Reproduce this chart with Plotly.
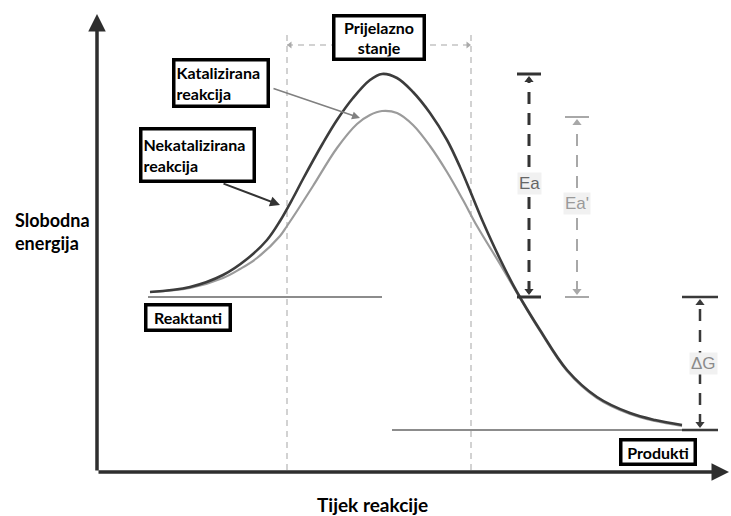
import plotly.graph_objects as go

# Reaction progress (x) and free energy (E), origin at the axes corner
x_uncat = [53, 93, 126, 150, 170, 183, 196, 206, 226, 240, 256, 273, 285, 300, 316, 333,
           350, 363, 376, 386, 403, 420, 443, 470, 500, 533, 558, 585]
e_uncat = [180, 185, 197, 213, 232, 251, 274, 293, 329, 352, 374, 392, 398, 394, 380, 359,
           332, 305, 274, 250, 213, 180, 142, 102, 75, 59, 52, 47]
x_cat = [53, 93, 126, 143, 160, 183, 190, 200, 216, 240, 260, 273, 285, 300, 316, 333,
         350, 366, 380, 403, 420, 443, 470, 500, 533, 558, 585]
e_cat = [180, 184, 194, 203, 214, 236, 246, 261, 286, 324, 348, 357, 361, 359, 347, 326,
         300, 272, 246, 208, 179, 141, 101, 74, 58, 51, 46]

E_reactants = 175
E_products = 42
E_ts_uncat = 398
E_ts_cat = 355
reactant_x = [51, 285]
product_x = [295, 590]
ts_x = [190, 374]
x_Ea, x_Ea2, x_dG = 432, 480, 603

labels = {
    "ts": "Prijelazno<br>stanje",
    "cat": "Katalizirana<br>reakcija",
    "uncat": "Nekatalizirana<br>reakcija",
    "react": "Reaktanti",
    "prod": "Produkti",
    "ylab": "Slobodna<br>energija",
    "xlab": "Tijek reakcije",
}

FONT = "Lato"
fig = go.Figure()

def line(xs, ys, color, width, dash="solid", shape="linear"):
    fig.add_trace(go.Scatter(x=xs, y=ys, mode="lines", hoverinfo="skip",
                             line=dict(color=color, width=width, dash=dash, shape=shape)))

# transition state dashed verticals and double arrow
for xv in ts_x:
    line([xv, xv], [2, 440], "#c4c4c4", 1.5, "6px,5px")
line(ts_x, [427, 427], "#c4c4c4", 1.5, "6px,5px")
fig.add_trace(go.Scatter(x=[ts_x[0] + 3, ts_x[1] - 3], y=[427, 427], mode="markers", hoverinfo="skip",
                         marker=dict(symbol=["triangle-left", "triangle-right"], size=6, color="#aaaaaa")))

# levels
line(reactant_x, [E_reactants] * 2, "#8c8c8c", 1.8)
line(product_x, [E_products] * 2, "#8c8c8c", 1.8)

# curves
line(x_cat, e_cat, "#9b9b9b", 2.2, shape="spline")
line(x_uncat, e_uncat, "#3c3c3c", 2.6, shape="spline")

# Ea, Ea', dG markers
def bracket(xc, top, bot, color, width, half):
    line([xc, xc], [bot + 4, top - 4], color, width, "12px,9px")
    line([xc - half, xc + half], [top, top], color, width)
    line([xc - half, xc + half], [bot, bot], color, width)
    fig.add_trace(go.Scatter(x=[xc, xc], y=[top - 6, bot + 6], mode="markers", hoverinfo="skip",
                             marker=dict(symbol=["triangle-up", "triangle-down"], size=8, color=color)))

bracket(x_Ea, E_ts_uncat, E_reactants, "#333333", 3, 12)
bracket(x_Ea2, E_ts_cat, E_reactants, "#a8a8a8", 2, 12)
bracket(x_dG, E_reactants, E_products, "#3a3a3a", 2.5, 18)

ann = []
def label_bg(x, y, t, color):
    ann.append(dict(x=x, y=y, text=t, showarrow=False, bgcolor="#f1f1f1",
                    font=dict(family="Liberation Sans", size=17, color=color)))
label_bg(x_Ea, 289, "Ea", "#666666")
label_bg(x_Ea2, 269, "Ea'", "#9a9a9a")
label_bg(x_dG + 3, 109, "ΔG", "#8a8a8a")

def box(x, y, t, w, h, align="left"):
    ann.append(dict(x=x, y=y, text=t, showarrow=False, bgcolor="white", bordercolor="black",
                    borderwidth=3.5, borderpad=1, width=w - 9, height=h - 9, align=align, valign="middle",
                    font=dict(family=FONT, size=16, color="black", weight="bold")))
box(282, 434.5, labels["ts"], 94, 47, "center")
box(124, 389, labels["cat"], 98, 50)
box(100.5, 317, labels["uncat"], 117, 56)
box(91, 154.5, labels["react"], 88, 29, "center")
box(561, 20, labels["prod"], 78, 28, "center")

# pointer arrows
ann.append(dict(x=263, y=354, ax=175, ay=384, axref="x", ayref="y", xref="x", yref="y", text="",
                showarrow=True, arrowhead=2, arrowsize=1, arrowwidth=1.6, arrowcolor="#808080"))
ann.append(dict(x=183, y=267, ax=125, ay=289, axref="x", ayref="y", xref="x", yref="y", text="",
                showarrow=True, arrowhead=2, arrowsize=1, arrowwidth=2, arrowcolor="#333333"))

# axes
ann.append(dict(x=0, y=458, ax=0, ay=0, axref="x", ayref="y", text="", showarrow=True,
                arrowhead=2, arrowsize=1, arrowwidth=3.5, arrowcolor="#2e2e2e"))
ann.append(dict(x=632, y=0, ax=0, ay=0, axref="x", ayref="y", text="", showarrow=True,
                arrowhead=2, arrowsize=1, arrowwidth=3.5, arrowcolor="#2e2e2e"))

ann.append(dict(x=-84, y=241, text=labels["ylab"], showarrow=False, xanchor="left", align="left",
                font=dict(family=FONT, size=18, color="black", weight="bold")))
ann.append(dict(x=275, y=-32, text=labels["xlab"], showarrow=False,
                font=dict(family=FONT, size=19, color="black", weight="bold")))

fig.update_layout(
    width=731, height=516, autosize=False, showlegend=False,
    margin=dict(l=0, r=0, t=0, b=0),
    paper_bgcolor="white", plot_bgcolor="white",
    xaxis=dict(range=[-97, 634], visible=False, fixedrange=True),
    yaxis=dict(range=[-44, 472], visible=False, fixedrange=True),
    annotations=ann,
)
fig.write_html("out.html", config={"responsive": False, "displayModeBar": False},
               post_script="document.body.style.margin='0';document.body.style.overflow='hidden';")
